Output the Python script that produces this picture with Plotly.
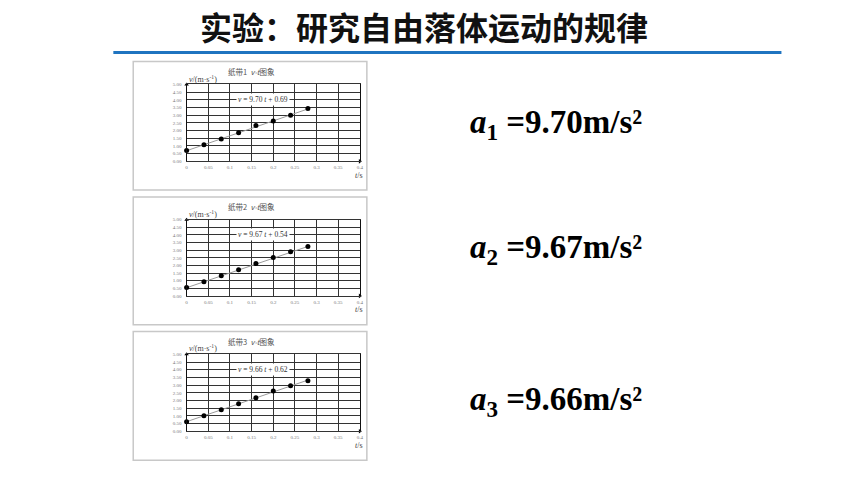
import plotly.graph_objects as go

# ---- data ----
t_values = [0, 0.04, 0.08, 0.12, 0.16, 0.20, 0.24, 0.28]
v_tape1 = [0.70, 1.08, 1.46, 1.86, 2.33, 2.63, 3.00, 3.43]
v_tape2 = [0.56, 0.93, 1.32, 1.71, 2.12, 2.53, 2.90, 3.25]
v_tape3 = [0.61, 1.01, 1.40, 1.78, 2.17, 2.62, 2.96, 3.28]
slopes = [9.70, 9.67, 9.66]
intercepts = [0.69, 0.54, 0.62]
tape_titles = ["纸带1", "纸带2", "纸带3"]
accel_labels = ["9.70", "9.67", "9.66"]
x_range = [0, 0.4]
y_range = [0, 5.0]
x_ticks = [0, 0.05, 0.1, 0.15, 0.2, 0.25, 0.3, 0.35, 0.4]
y_ticks = [0, 0.5, 1.0, 1.5, 2.0, 2.5, 3.0, 3.5, 4.0, 4.5, 5.0]

W, H = 860, 484
series = [v_tape1, v_tape2, v_tape3]

# pixel layout of each panel (plot area in px)
plot_x = (186.7, 361.0)
plot_y = [(83.3, 161.0), (220.0, 297.0), (356.0, 433.7)]
box_y = [(60, 190), (197, 326), (333, 463)]
box_x = (133, 368)
accel_y = [124, 250, 404]

fig = go.Figure()
layout = dict(
    width=W, height=H, margin=dict(l=0, r=0, t=0, b=0),
    paper_bgcolor="white", plot_bgcolor="white", showlegend=False,
)
annotations = []
shapes = []

for i, v in enumerate(series):
    n = "" if i == 0 else str(i + 1)
    xa, ya = "x" + n, "y" + n
    # fit line from the displayed equation
    fit_t = [t_values[0], t_values[-1]]
    fit_v = [slopes[i] * tt + intercepts[i] for tt in fit_t]
    fig.add_trace(go.Scatter(
        x=fit_t, y=fit_v, mode="lines", xaxis=xa, yaxis=ya,
        line=dict(color="#9a9a9a", width=1)))
    # data points
    fig.add_trace(go.Scatter(
        x=t_values, y=v, mode="markers", xaxis=xa, yaxis=ya,
        marker=dict(color="black", size=5, line=dict(width=0)), cliponaxis=False))
    # axis-end arrow markers
    fig.add_trace(go.Scatter(
        x=[x_range[0], x_range[1]], y=[y_range[1], y_range[0]], mode="markers",
        xaxis=xa, yaxis=ya, cliponaxis=False,
        marker=dict(symbol=["triangle-up", "triangle-right"], size=4, color="black")))

    y0, y1 = plot_y[i]
    layout["xaxis" + n] = dict(
        domain=[plot_x[0] / W, plot_x[1] / W], range=x_range, anchor=ya,
        tickvals=x_ticks, ticktext=[("%g" % x) for x in x_ticks],
        showgrid=True, gridcolor="#333333", gridwidth=1,
        showline=True, linecolor="#333333", linewidth=1, mirror=True,
        zeroline=False, ticks="", ticklabelstandoff=1,
        tickfont=dict(size=5, color="#777777", family="Liberation Serif"))
    layout["yaxis" + n] = dict(
        domain=[1 - y1 / H, 1 - y0 / H], range=y_range, anchor=xa,
        tickvals=y_ticks, ticktext=["%.2f" % y for y in y_ticks],
        showgrid=True, gridcolor="#333333", gridwidth=1,
        showline=True, linecolor="#111111", linewidth=1, mirror=True,
        zeroline=False, ticks="", ticklabelstandoff=3,
        tickfont=dict(size=5, color="#777777", family="Liberation Serif"))

    # frame box
    bx0, bx1 = box_x
    by0, by1 = box_y[i]
    shapes.append(dict(type="rect", xref="paper", yref="paper",
                       x0=bx0 / W, x1=bx1 / W, y0=1 - by1 / H, y1=1 - by0 / H,
                       line=dict(color="#c8c8c8", width=1.5), layer="below"))
    # panel title
    annotations.append(dict(
        xref="paper", yref="paper", x=252 / W, y=1 - (y0 - 13) / H,
        xanchor="center", yanchor="middle",
        text=tape_titles[i] + "  <i>v-t</i>图象", showarrow=False,
        font=dict(size=7.5, color="#555555", family="Noto Sans CJK SC")))
    # y-axis label
    annotations.append(dict(
        xref="paper", yref="paper", x=187 / W, y=1 - (y0 - 6) / H,
        xanchor="left", yanchor="middle",
        text="<i>v</i>/(m·s<sup>-1</sup>)", showarrow=False,
        font=dict(size=8, color="#444444", family="Liberation Serif")))
    # x-axis label
    annotations.append(dict(
        xref="paper", yref="paper", x=360 / W, y=1 - (y1 + 14) / H,
        xanchor="center", yanchor="middle",
        text="<i>t</i>/s", showarrow=False,
        font=dict(size=8, color="#444444", family="Liberation Serif")))
    # equation
    annotations.append(dict(
        xref=xa, yref=ya, x=0.177, y=4.0, xanchor="center", yanchor="middle",
        text="<i>v</i> = %.2f <i>t</i> + %.2f" % (slopes[i], intercepts[i]),
        showarrow=False, bgcolor="white", borderpad=1,
        font=dict(size=7.5, color="#333333", family="Liberation Serif")))
    # acceleration text on the right
    annotations.append(dict(
        xref="paper", yref="paper", x=470 / W, y=1 - accel_y[i] / H,
        xanchor="left", yanchor="middle",
        text="<b><i>a</i><sub>%d</sub> =%sm/s²</b>" % (i + 1, accel_labels[i]),
        showarrow=False,
        font=dict(size=33, color="black", family="Liberation Serif")))

# main title
annotations.append(dict(
    xref="paper", yref="paper", x=425 / W, y=1 - 24 / H,
    xanchor="center", yanchor="middle",
    text="<b>实验：研究自由落体运动的规律</b>", showarrow=False,
    font=dict(size=32, color="#111111", family="Noto Sans CJK SC")))
# blue rule under title
shapes.append(dict(type="line", xref="paper", yref="paper",
                   x0=113 / W, x1=785 / W, y0=1 - 51 / H, y1=1 - 51 / H,
                   line=dict(color="#1f74c0", width=3)))

layout["annotations"] = annotations
layout["shapes"] = shapes
fig.update_layout(**layout)
fig.write_html("out.html", config={"displayModeBar": False},
               post_script="document.body.style.margin='0';document.body.style.overflow='hidden';")
